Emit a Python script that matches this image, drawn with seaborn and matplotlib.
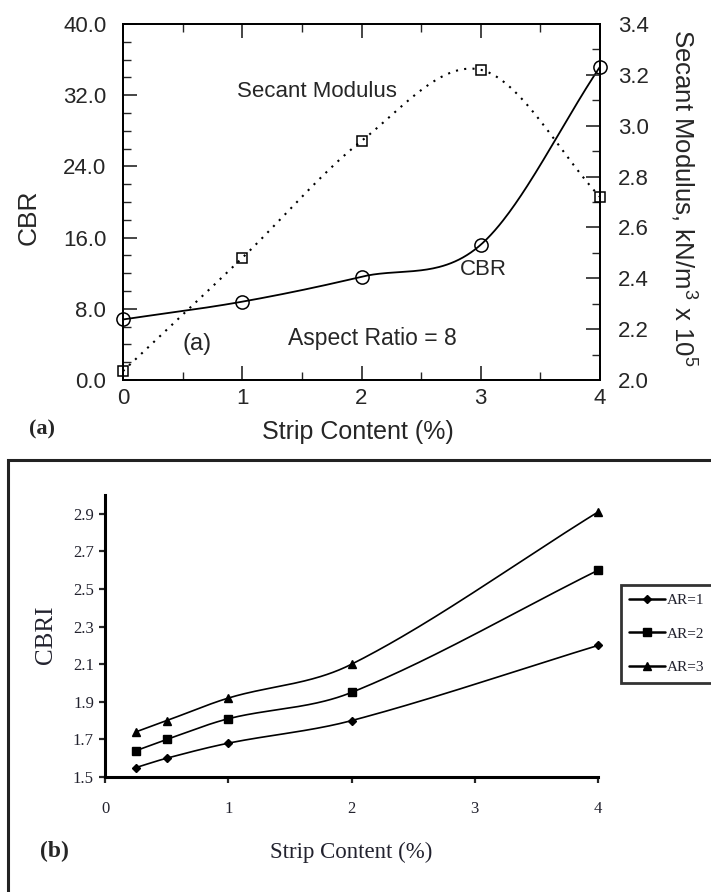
import numpy as np
import pandas as pd
import matplotlib
matplotlib.use("Agg")
import matplotlib.pyplot as plt
from matplotlib.lines import Line2D
from matplotlib.patches import Rectangle
from matplotlib.ticker import MultipleLocator, FormatStrFormatter
import seaborn as sns

# ---- panel (a): CBR and secant modulus vs strip content, aspect ratio 8 ----
strip_a = [0, 1, 2, 3, 4]
cbr = [6.8, 8.8, 11.6, 15.2, 35.2]
secant_modulus = [2.035, 2.48, 2.94, 3.22, 2.72]

# ---- panel (b): CBR index vs strip content for three aspect ratios ----
strip_b = [0.25, 0.5, 1, 2, 4]
cbri_ar1 = [1.55, 1.60, 1.68, 1.80, 2.20]
cbri_ar2 = [1.64, 1.70, 1.81, 1.95, 2.60]
cbri_ar3 = [1.74, 1.80, 1.92, 2.10, 2.91]
ar_labels = ["AR=1", "AR=2", "AR=3"]


def smooth_curve(x, y, n=60):
    """Piecewise cubic Hermite curve through the points (cardinal tangents)."""
    x = np.asarray(x, float)
    y = np.asarray(y, float)
    m = np.empty_like(y)
    m[1:-1] = (y[2:] - y[:-2]) / (x[2:] - x[:-2])
    m[0] = (y[1] - y[0]) / (x[1] - x[0])
    m[-1] = (y[-1] - y[-2]) / (x[-1] - x[-2])
    xs, ys = [], []
    for i in range(len(x) - 1):
        h = x[i + 1] - x[i]
        t = np.linspace(0, 1, n, endpoint=(i == len(x) - 2))
        h00 = 2 * t**3 - 3 * t**2 + 1
        h10 = t**3 - 2 * t**2 + t
        h01 = -2 * t**3 + 3 * t**2
        h11 = t**3 - t**2
        xs.append(x[i] + t * h)
        ys.append(h00 * y[i] + h10 * h * m[i] + h01 * y[i + 1] + h11 * h * m[i + 1])
    return pd.DataFrame({"x": np.concatenate(xs), "y": np.concatenate(ys)})


sns.set_style("ticks")
plt.rcParams["font.family"] = ["Liberation Sans", "DejaVu Sans"]
plt.rcParams["mathtext.fontset"] = "custom"
plt.rcParams["mathtext.rm"] = "Liberation Sans"
plt.rcParams["mathtext.it"] = "Liberation Sans:italic"

fig = plt.figure(figsize=(7.11, 8.92), dpi=100)
fig.patch.set_facecolor("white")

# ================= panel (a) =================
ax = fig.add_axes([0.1730, 0.5740, 0.6709, 0.3991])
ax2 = ax.twinx()

cbr_curve = smooth_curve(strip_a, cbr)
sm_curve = smooth_curve(strip_a, secant_modulus)

sns.lineplot(data=cbr_curve, x="x", y="y", ax=ax, color="black", lw=1.3,
             estimator=None, sort=False)
ax.plot(strip_a, cbr, ls="none", marker="o", ms=9.5, mfc="none", mec="black",
        mew=1.1, clip_on=False, zorder=5)

sns.lineplot(data=sm_curve, x="x", y="y", ax=ax2, color="black", lw=1.5,
             estimator=None, sort=False, linestyle=(0, (1, 3)))
ax2.plot(strip_a, secant_modulus, ls="none", marker="s", ms=7, mfc="none",
         mec="black", mew=1.1, clip_on=False, zorder=5)

ax.set_xlim(0, 4)
ax.set_ylim(0, 40)
ax2.set_ylim(2.0, 3.4)

ax.xaxis.set_major_locator(MultipleLocator(1))
ax.xaxis.set_minor_locator(MultipleLocator(0.5))
ax.yaxis.set_major_locator(MultipleLocator(8))
ax.yaxis.set_minor_locator(MultipleLocator(2))
ax.yaxis.set_major_formatter(FormatStrFormatter("%.1f"))
ax2.yaxis.set_major_locator(MultipleLocator(0.2))
ax2.yaxis.set_minor_locator(MultipleLocator(0.1))
ax2.yaxis.set_major_formatter(FormatStrFormatter("%.1f"))

for a in (ax, ax2):
    for s in a.spines.values():
        s.set_linewidth(1.3)
        s.set_color("black")

ax.tick_params(axis="both", which="major", direction="in", length=10, width=1.2,
               labelsize=16, top=True, right=False)
ax.tick_params(axis="both", which="minor", direction="in", length=6, width=1.0,
               top=True, right=False)
ax.tick_params(axis="y", which="major", pad=12)
ax.tick_params(axis="x", which="major", pad=6)
ax2.tick_params(axis="y", which="major", direction="in", length=10, width=1.2,
                labelsize=16, pad=13)
ax2.tick_params(axis="y", which="minor", direction="in", length=6, width=1.0)

ax.set_xlabel("Strip Content (%)", fontsize=18, va="center")
ax.xaxis.set_label_coords(0.493, -0.146)
ax.set_ylabel("CBR", fontsize=19, va="center", ha="center")
ax.yaxis.set_label_coords(-0.197, 0.458)
ax2.set_ylabel(r"Secant Modulus, kN/m$^\mathrm{3}$ x 10$^\mathrm{5}$", fontsize=18.5,
               rotation=270, va="center", ha="center")
ax2.yaxis.set_label_coords(1.174, 0.511)

ax.text(0.96, 32.4, "Secant Modulus", fontsize=16, ha="left", va="center")
ax.text(3.02, 12.4, "CBR", fontsize=16, ha="center", va="center")
ax.text(0.62, 4.0, "(a)", fontsize=17, ha="center", va="center")
ax.text(1.38, 4.7, "Aspect Ratio = 8", fontsize=16.5, ha="left", va="center")

fig.text(0.059, 0.519, "(a)", fontsize=16, fontweight="bold",
         family="Liberation Serif", ha="center", va="center")

# ================= panel (b) =================
serif = ["Liberation Serif", "DejaVu Serif"]
text_col = "#22222e"

bx = fig.add_axes([0.1477, 0.1289, 0.6934, 0.3161])
series_b = [cbri_ar1, cbri_ar2, cbri_ar3]
markers_b = ["D", "s", "^"]
msizes_b = [4.5, 5.5, 6.0]
handles = []
for vals, mk, ms, lab in zip(series_b, markers_b, msizes_b, ar_labels):
    sns.lineplot(data=smooth_curve(strip_b, vals), x="x", y="y", ax=bx,
                 color="black", lw=1.2, estimator=None, sort=False)
    bx.plot(strip_b, vals, ls="none", marker=mk, ms=ms, color="black",
            clip_on=False, zorder=5)
    handles.append(Line2D([], [], color="black", lw=1.8, marker=mk, ms=ms,
                          label=lab))

bx.set_xlim(0, 4)
bx.set_ylim(1.5, 3.0)
bx.set_xticks([0, 1, 2, 3, 4])
bx.set_yticks(np.arange(1.5, 2.95, 0.2))
bx.yaxis.set_major_formatter(FormatStrFormatter("%.1f"))
for side in ("top", "right"):
    bx.spines[side].set_visible(False)
for side in ("left", "bottom"):
    bx.spines[side].set_linewidth(2.2)
    bx.spines[side].set_color("black")
bx.tick_params(axis="both", direction="out", length=4, width=1.6,
               labelsize=12, labelcolor=text_col)
bx.tick_params(axis="x", pad=13)
bx.tick_params(axis="y", pad=4)
for lbl in bx.get_xticklabels() + bx.get_yticklabels():
    lbl.set_family(serif)

bx.set_xlabel("Strip Content (%)", fontsize=16.5, family=serif, color=text_col,
              va="center")
bx.xaxis.set_label_coords(0.499, -0.266)
bx.set_ylabel("CBRI", fontsize=18, family=serif, color=text_col,
              va="center", ha="center")
bx.yaxis.set_label_coords(-0.120, 0.504)

leg = bx.legend(handles=handles, loc="upper left",
                bbox_to_anchor=(621 / 711, 1 - 585 / 892),
                bbox_transform=fig.transFigure, frameon=True, fancybox=False,
                borderaxespad=0, borderpad=0.55, handlelength=2.3,
                handletextpad=0.12, labelspacing=1.3, numpoints=1,
                prop={"family": serif, "size": 11})
leg.get_frame().set_edgecolor("black")
leg.get_frame().set_linewidth(2.0)
for t in leg.get_texts():
    t.set_color(text_col)

fig.text(0.077, 0.045, "(b)", fontsize=17, fontweight="bold", family=serif,
         ha="center", va="center")

# outer frame around panel (b)
fig.patches.append(Rectangle((8 / 711, -0.05), 1.2, 0.05 + (1 - 460 / 892),
                             transform=fig.transFigure, fill=False,
                             edgecolor="#222222", linewidth=2.2))

fig.savefig("out.png", dpi=100, facecolor="white")
